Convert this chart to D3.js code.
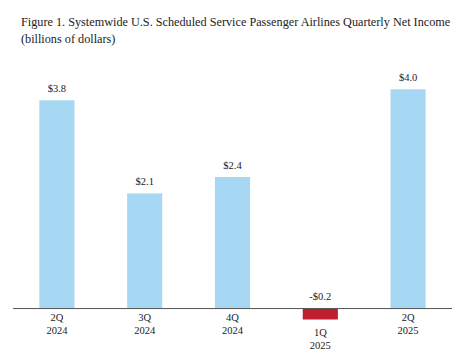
<!DOCTYPE html>
<html><head><meta charset="utf-8">
<script src="https://cdn.jsdelivr.net/npm/d3@7"></script>
<style>body{margin:0;background:#fff}svg{display:block}</style>
</head><body>
<svg id="c" width="467" height="361"></svg>
<script>
const quarters = ["2Q", "3Q", "4Q", "1Q", "2Q"];
const years = ["2024", "2024", "2024", "2025", "2025"];
const values = [3.8, 2.1, 2.4, -0.2, 4.0];
const labels = ["$3.8", "$2.1", "$2.4", "-$0.2", "$4.0"];
const titleLines = ["Figure 1. Systemwide U.S. Scheduled Service Passenger Airlines Quarterly Net Income", "(billions of dollars)"];

const svg = d3.select("#c");
const font = "'Liberation Serif', 'Times New Roman', serif";
const ids = values.map((d, i) => i);
const x = d3.scaleBand().domain(ids).range([13, 452]).paddingInner(0.6).paddingOuter(0.3);
const y = d3.scaleLinear().domain([-0.2, 4.0]).range([319.5, 89.3]);

const title = svg.append("g").selectAll("text").data(titleLines).join("text")
  .attr("x", 21).attr("y", (d, i) => 26 + i * 17)
  .attr("font-family", font).attr("font-size", 14).attr("fill", "#222")
  .text(d => d);
const w0 = title.nodes()[0].getComputedTextLength();
const fs = 14 * 430 / w0;
title.attr("font-size", fs);

svg.append("g").selectAll("rect").data(values).join("rect")
  .attr("x", (d, i) => x(i)).attr("width", x.bandwidth())
  .attr("y", d => y(Math.max(0, d))).attr("height", d => Math.abs(y(d) - y(0)))
  .attr("fill", d => d < 0 ? "#be1e2d" : "#a6d8f3");

svg.append("line").attr("x1", 13).attr("x2", 452).attr("y1", y(0)).attr("y2", y(0))
  .attr("stroke", "#555").attr("stroke-width", 1);

svg.append("g").selectAll("text").data(values).join("text")
  .attr("x", (d, i) => x(i) + x.bandwidth() / 2)
  .attr("y", d => d < 0 ? y(0) - 9 : y(d) - 8)
  .attr("text-anchor", "middle").attr("font-family", font).attr("font-size", 10.5).attr("fill", "#222")
  .text((d, i) => labels[i]);

const cat = svg.append("g").selectAll("g").data(values).join("g")
  .attr("transform", (d, i) => `translate(${x(i) + x.bandwidth() / 2},${d < 0 ? y(d) + 16 : y(0) + 12})`);
cat.append("text").attr("y", 0).attr("text-anchor", "middle").attr("font-family", font).attr("font-size", 10.5).attr("fill", "#222").text((d, i) => quarters[i]);
cat.append("text").attr("y", 13).attr("text-anchor", "middle").attr("font-family", font).attr("font-size", 10.5).attr("fill", "#222").text((d, i) => years[i]);
</script>
</body></html>
